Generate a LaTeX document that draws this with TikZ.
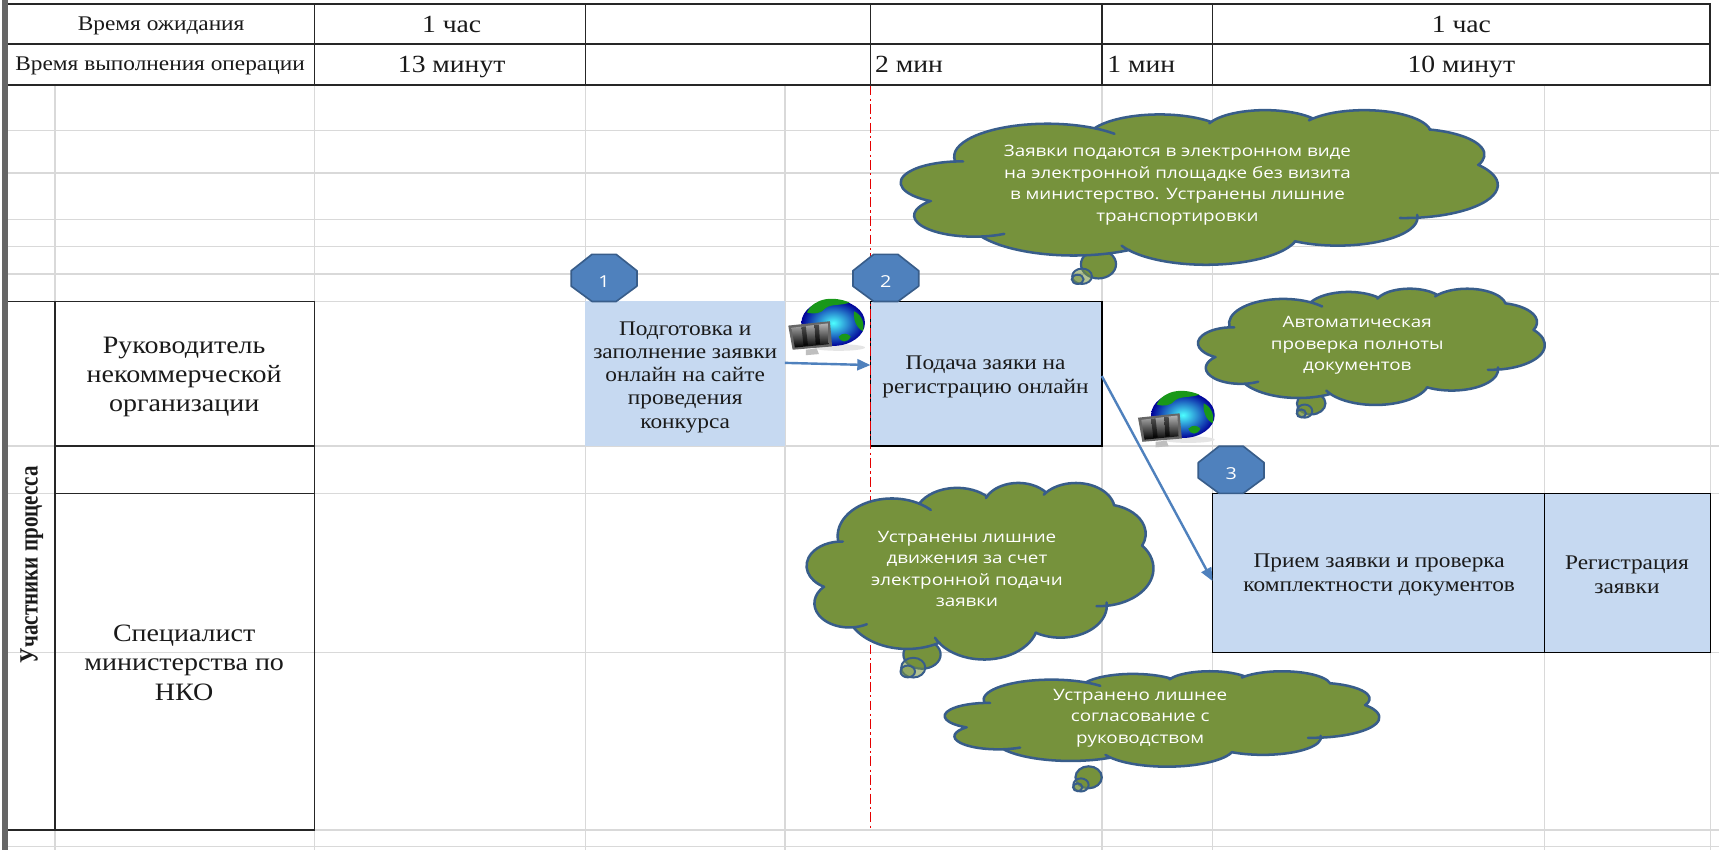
\documentclass[tikz,border=0pt]{standalone}
\usepackage{fontspec}
\setmainfont[FakeStretch=1.12]{Liberation Serif}
\newfontfamily\cloudfont[FakeStretch=1.2]{Open Sans}
\newfontfamily\sidefont[FakeStretch=0.8]{Liberation Serif}
\usetikzlibrary{arrows.meta}
\definecolor{gridgrey}{HTML}{D9D9D9}
\definecolor{boxblue}{HTML}{C6D9F1}
\definecolor{cloudgreen}{HTML}{76923C}
\definecolor{cloudedge}{HTML}{385D8A}
\definecolor{octfill}{HTML}{4F81BD}
\definecolor{arrowblue}{HTML}{4F81BD}
\definecolor{inktext}{HTML}{1A1A1A}
\newcommand\segm[4]{arc[start angle={atan2(#1*sin(#3),#2*cos(#3))},
  delta angle={ifthenelse(#4>#3,mod(atan2(#1*sin(#4),#2*cos(#4))-atan2(#1*sin(#3),#2*cos(#3))+720,360),mod(atan2(#1*sin(#4),#2*cos(#4))-atan2(#1*sin(#3),#2*cos(#3))+720,360)-360)},
  x radius=#1pt, y radius=#2pt]}
\newcommand\lobe[6]{\segm{#1}{#2}{#3}{#3-#5} \segm{#1}{#2}{#3-#5}{#4+#6} \segm{#1}{#2}{#4+#6}{#4}}
\tikzset{
  gridline/.style={draw=gridgrey,line width=1.3pt},
  tabline/.style={draw=black!85,line width=1.5pt},
  celltext/.style={font=\fontsize{19}{22}\selectfont,text=inktext,align=center,inner sep=0pt},
  valuetext/.style={celltext,font=\fontsize{22.5}{24}\selectfont},
  roletext/.style={celltext,font=\fontsize{22.8}{26.5}\selectfont},
  filledbox/.style={fill=boxblue,draw=none},
  framedbox/.style={fill=boxblue,draw=black,line width=1.3pt},
  octa/.style={fill=octfill,draw=cloudedge,line width=1.5pt,line join=round},
  octlabel/.style={text=white,font=\cloudfont\fontsize{15}{16}\selectfont,inner sep=0pt},
  cloudbody/.style={fill=cloudgreen,draw=cloudedge,line width=2.3pt,line join=round},
  tailbody/.style={fill=cloudgreen,draw=cloudedge,line width=2pt},
  tailring/.style={draw=cloudedge,line width=1.8pt,fill=cloudgreen,fill opacity=.55},
  cloudtext/.style={text=white,align=center,inner sep=0pt,font=\cloudfont\fontsize{14.3}{19.5}\selectfont},
  link/.style={draw=arrowblue,line width=2.2pt,-{Triangle[length=12pt,width=10pt]}},
}
\newcommand\octagon[2]{\path[octa] (#1-30,#2-7) -- (#1-11,#2-22) -- (#1+11,#2-22) -- (#1+30,#2-7) -- (#1+30,#2+7) -- (#1+11,#2+21) -- (#1-11,#2+21) -- (#1-30,#2+7) -- cycle;}
\newcommand\cloudshape[4]{%
  \path[cloudbody,shift={(#1,#2)},xscale=#3/100,yscale=-#4/100]
   (9.028pt,33.264pt)
   \lobe{15.632}{21.273}{-190.487}{-66.706}{.5}{14}
   \lobe{12.345}{16.822}{-144.102}{-54.157}{.5}{.5}
   \lobe{10.104}{13.762}{-145.808}{-46.085}{5}{.5}
   \lobe{11.243}{15.266}{-130.986}{-13.744}{6}{.5}
   \lobe{12.345}{16.836}{-78.709}{30.318}{.5}{.5}
   \lobe{15.683}{21.343}{-46.267}{84.002}{.5}{8}
   \lobe{13.391}{18.211}{0.625}{114.658}{8}{.5}
   \lobe{15.630}{21.331}{22.452}{137.625}{.5}{10}
   \lobe{17.870}{24.405}{66.243}{141.954}{.5}{.5}
   \lobe{10.093}{13.699}{-274.942}{-128.206}{18}{.5}
   \lobe{10.058}{13.762}{-246.829}{-94.310}{.5}{6}
   -- cycle;}
\newcommand\tails[9]{%
  \path[tailbody] (#1,#2) ellipse [x radius=#3,y radius=#4];
  \path[tailring] (#5,#6) ellipse [x radius=#7,y radius=#8];
  \path[tailring] (#5-#9,#6+#9*.7) ellipse [x radius=#7*.6,y radius=#8*.6];}
\newcommand\webicon[2]{%
  \begin{scope}[shift={(#1,#2)}]
   \fill[black!10] (46,44) ellipse [x radius=24,y radius=3];
   \shade[inner color=cyan!70!white,outer color=blue!60!black] (41,21.5) ellipse [x radius=29,y radius=21];
   \fill[green!55!black!90] (17,12) .. controls (24,-2) and (42,-3) .. (56,3) .. controls (48,6) and (40,4) .. (34,8) .. controls (30,13) and (24,14) .. (17,12) -- cycle;
   \fill[green!55!black!90] (60,11) .. controls (67,14) and (70,22) .. (68,29) .. controls (62,26) and (59,18) .. (60,11) -- cycle;
   \fill[green!55!black!90] (46,34) .. controls (50,30) and (54,31) .. (57,34) .. controls (54,40) and (48,40) .. (46,34) -- cycle;
   \fill[black!60] (0,24) -- (38,20) -- (40,43) -- (4,46) -- cycle;
   \shade[top color=black!30,bottom color=black] (3,26) -- (36,22) -- (37,41) -- (6,44) -- cycle;
   \shade[top color=black!70,bottom color=black] (12,25) -- (16,24.6) -- (18,42) -- (14,42.4) -- cycle;
   \shade[top color=black!70,bottom color=black] (24,23.6) -- (28,23.2) -- (29,41) -- (25,41.4) -- cycle;
   \fill[black!25] (16,46) -- (26,45) -- (28,50) -- (16,51) -- cycle;
  \end{scope}}
\begin{document}
\begin{tikzpicture}[x=1pt,y=-1pt]
\useasboundingbox (0,0) rectangle (1568,775);
\fill[white] (0,0) rectangle (1568,775);
% pale spreadsheet grid
\foreach \yy in {119,158,200,225,250,275,407,450,595,757,772}
  \draw[gridline] (6,\yy) -- (1568,\yy);
\foreach \xx in {50,287,534,716,1005,1106,1409,1560}
  \draw[gridline] (\xx,78) -- (\xx,775);
% header table
\draw[tabline] (6,3.5) rectangle (1560,40);
\draw[tabline] (6,40) rectangle (1560,77.5);
\foreach \xx in {287,534,794,1005,1106}
  \draw[tabline] (\xx,3.5) -- (\xx,77.5);
\node[celltext] (h1) at (147,23.5) {Время ожидания};
\node[celltext] (h2) at (146,60.5) {Время выполнения операции};
\node[valuetext] (w1) at (412,22.5) {1 час};
\node[valuetext] (o1) at (412,61) {13 минут};
\node[valuetext,anchor=west] (o2) at (798,59) {2 мин};
\node[valuetext,anchor=west] (o3) at (1010,59) {1 мин};
\node[valuetext] (w2) at (1333,22.5) {1 час};
\node[valuetext] (o4) at (1333,61) {10 минут};
% role column
\draw[tabline] (6,275) rectangle (50,757);
\draw[tabline] (50,275) rectangle (287,407);
\draw[tabline] (50,407) rectangle (287,450);
\draw[tabline] (50,450) rectangle (287,757);
\fill[black!60] (1.5,0) rectangle (7,775);
\node[celltext,rotate=90,font=\sidefont\bfseries\fontsize{24}{26}\selectfont] (side) at (29,515) {Участники процесса};
\node[roletext] (r1) at (168,343.5) {Руководитель\\некоммерческой\\организации};
\node[roletext,font=\fontsize{22.8}{27}\selectfont] (r2) at (168,604.5) {Специалист\\министерства по\\НКО};
% process boxes
\fill[filledbox] (534,275) rectangle (716,407);
\path[framedbox] (794,275) rectangle (1005,407);
\path[framedbox] (1106,450) rectangle (1409,595);
\path[framedbox] (1409,450) rectangle (1560,595);
\coordinate (b1e) at (716,331);
\coordinate (b2w) at (794,333);
\coordinate (b2e) at (1005,343);
\coordinate (b3w) at (1106,530);
\node[celltext,font=\fontsize{19}{21.2}\selectfont] (t1) at (625,344) {Подготовка и\\заполнение заявки\\онлайн на сайте\\проведения\\конкурса};
\node[celltext] (t2) at (899,343.5) {Подача заяки на\\регистрацию онлайн};
\node[celltext] (t3) at (1258,524.5) {Прием заявки и проверка\\комплектности документов};
\node[celltext] (t4) at (1484,524.5) {Регистрация\\заявки};
% red boundary
\draw[red!90!black,line width=1.6pt,dash pattern=on 9pt off 3pt on 2pt off 3pt] (794,78) -- (794,755);
% octagons
\octagon{551}{254}
\octagon{808}{254}
\octagon{1123}{429}
\node[octlabel] (n1) at (551,257) {1};
\node[octlabel] (n2) at (808,257) {2};
\node[octlabel] (n3) at (1123,432) {3};
% icons
\webicon{719}{273}
\webicon{1038}{357}
% connectors
\draw[link] (b1e) -- (b2w);
\draw[link] (b2e) -- (b3w);
% clouds
\tails{1002}{241}{16}{13}{987}{252}{9}{7}{4}
\cloudshape{822}{100}{544}{141}
\node[cloudtext] (c1) at (1074,169) {Заявки подаются в электронном виде\\на электронной площадке без визита\\в министерство. Устранены лишние\\транспортировки};
\tails{1196}{368}{13}{10}{1190}{375}{7}{6}{3}
\cloudshape{1093}{263}{316}{106}
\node[cloudtext] (c2) at (1238,315) {Автоматическая\\проверка полноты\\документов};
\tails{841}{597}{17}{13}{833}{609}{11}{9}{5}
\cloudshape{736}{440}{316}{161}
\node[cloudtext] (c3) at (882,519) {Устранены лишние\\движения за счет\\электронной подачи\\заявки};
\tails{993}{709}{12}{10}{986}{716}{7}{6}{3}
\cloudshape{862}{612}{396}{87}
\node[cloudtext] (c4) at (1040,655) {Устранено лишнее\\согласование с\\руководством};
\end{tikzpicture}
\end{document}
